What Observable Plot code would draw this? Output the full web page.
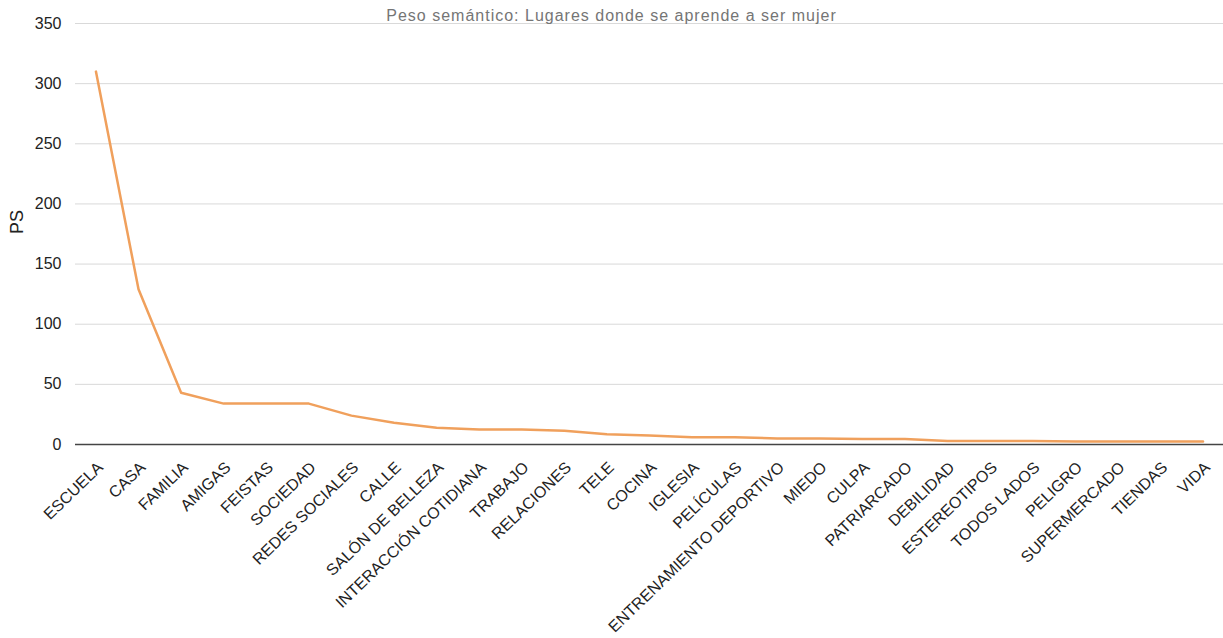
<!DOCTYPE html>
<html>
<head>
<meta charset="utf-8">
<script src="https://cdn.jsdelivr.net/npm/d3@7"></script>
<script src="https://cdn.jsdelivr.net/npm/@observablehq/plot@0.6"></script>
<style>
  html, body { margin: 0; padding: 0; background: #fff; }
  #wrap { position: relative; width: 1223px; height: 638px; }
  #title {
    position: absolute; left: 0; right: 0; top: 7px;
    text-align: center; font-family: "Liberation Sans", Arial, sans-serif;
    font-size: 16px; letter-spacing: 1px; color: #757575; pointer-events: none;
  }
</style>
</head>
<body>
<div id="wrap">
  <div id="chart"></div>
  <div id="title">Peso semántico: Lugares donde se aprende a ser mujer</div>
</div>
<script>
// Lugares (categorías del eje X)
const lugares = [
  "ESCUELA", "CASA", "FAMILIA", "AMIGAS", "FEISTAS", "SOCIEDAD", "REDES SOCIALES",
  "CALLE", "SALÓN DE BELLEZA", "INTERACCIÓN COTIDIANA", "TRABAJO", "RELACIONES",
  "TELE", "COCINA", "IGLESIA", "PELÍCULAS", "ENTRENAMIENTO DEPORTIVO", "MIEDO",
  "CULPA", "PATRIARCADO", "DEBILIDAD", "ESTEREOTIPOS", "TODOS LADOS", "PELIGRO",
  "SUPERMERCADO", "TIENDAS", "VIDA"
];
// Peso semántico (PS) de cada lugar
const ps = [
  310, 129, 43, 34, 34, 34, 24,
  18, 14, 12.5, 12.5, 11.5,
  8.5, 7.5, 6, 6, 5, 5,
  4.5, 4.5, 3, 3, 3, 2.5,
  2.5, 2.5, 2.5
];
// Marcas del eje Y
const yTicks = [0, 50, 100, 150, 200, 250, 300, 350];

const data = lugares.map((lugar, i) => ({lugar, ps: ps[i]}));

const chart = Plot.plot({
  width: 1223,
  height: 638,
  marginTop: 23,
  marginBottom: 194,
  marginLeft: 75,
  marginRight: 0,
  style: {fontFamily: "'Liberation Sans', Arial, sans-serif", color: "#222", background: "#fff"},
  x: {type: "point", domain: lugares, padding: 0.48, round: false},
  y: {domain: [0, 350]},
  marks: [
    Plot.ruleY(yTicks, {stroke: "#d9d9d9", strokeWidth: 1}),
    Plot.axisY({ticks: yTicks, tickSize: 0, tickPadding: 14, fontSize: 16, label: null}),
    Plot.text(["PS"], {frameAnchor: "left", dx: -58, rotate: -90, fontSize: 18, fill: "#222"}),
    Plot.axisX({tickSize: 0, tickRotate: -44, tickPadding: 16, fontSize: 16, label: null,
                textAnchor: "end", lineAnchor: "top"}),
    Plot.ruleX([0], {frameAnchor: "left", stroke: "#666"}),
    Plot.lineY(data, {x: "lugar", y: "ps", stroke: "#f0a05c", strokeWidth: 2.5}),
    Plot.ruleY([0], {stroke: "#444", strokeWidth: 1.5})
  ]
});
document.getElementById("chart").append(chart);
</script>
</body>
</html>
